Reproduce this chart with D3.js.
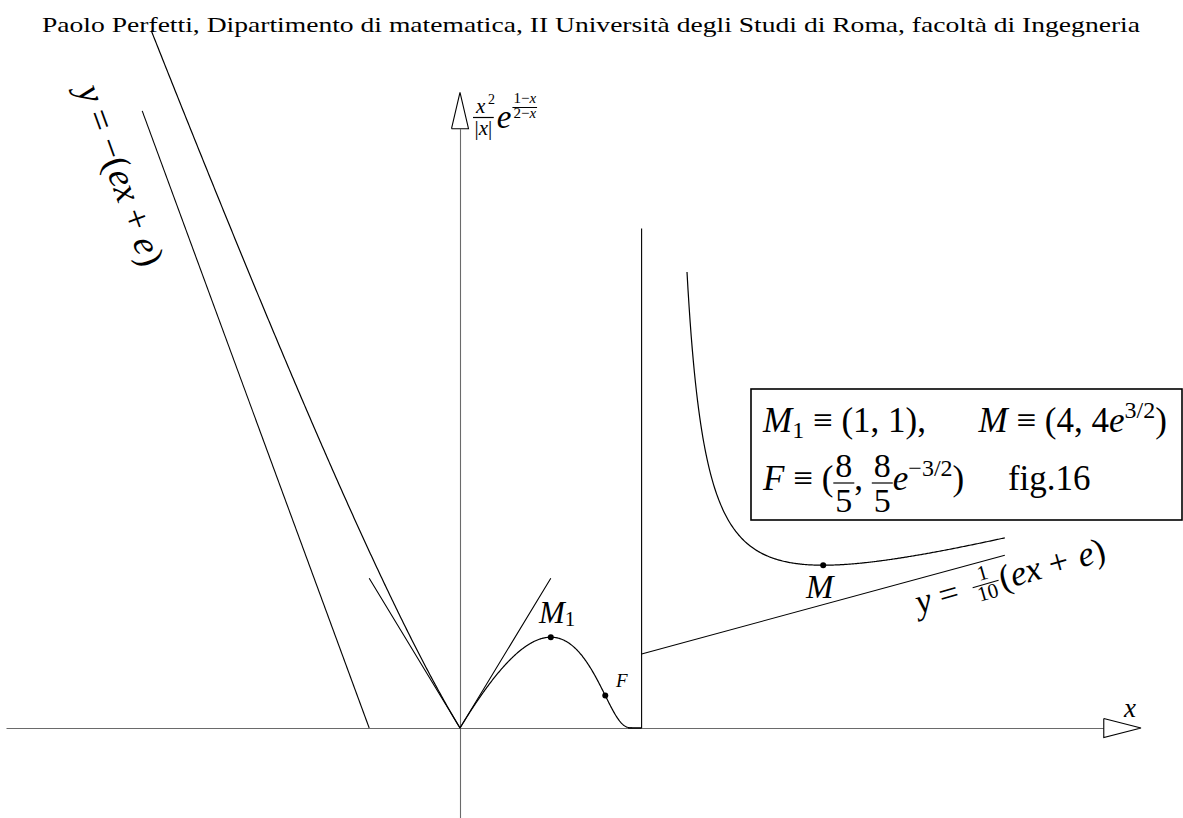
<!DOCTYPE html>
<html>
<head>
<meta charset="utf-8">
<script src="https://cdn.jsdelivr.net/npm/d3@7/dist/d3.min.js"></script>
<style>
  html, body { margin: 0; padding: 0; background: #fff; }
  svg { display: block; }
  text { font-family: "Liberation Serif", "DejaVu Serif", serif; fill: #000; white-space: pre; }
</style>
</head>
<body>
<svg id="chart" width="1183" height="818"></svg>
<script>
// Plot window in function units
const xExtent = [-5, 7.5];
const yExtent = [-1, 7];
const xArrowBase = 7.09;
const yArrowBase = 6.6;

// Branches of f(x) = x^2/|x| * e^((1-x)/(2-x)); the branch past x = 2 is drawn at 1/10 scale
const branchDomains = [[-3.4, 0], [0, 1.999], [2.5, 6]];
const branchScale = [1, 1, 0.1];

// Asymptotes: y = -(ex+e), x = 2, y = (ex+e)/10
const asymptoteSegments = [
  [[-3.5, 6.796], [-1, 0]],
  [[2, 0], [2, 5.5]],
  [[2, 0.815], [6, 1.903]]
];
// Half-tangents at the origin, slope ±e^(1/2)
const tangentSegment = [[-1, 1.649], [0, 0], [1, 1.649]];

// Marked points M1, F, M
const pointNames = ["M1", "F", "M"];
const pointX = [1, 1.6, 4];
const pointY = [1, 0.357, 1.793];

const svg = d3.select("#chart");
const x = d3.scaleLinear().domain(xExtent).range([6, 1141]);
const y = d3.scaleLinear().domain(yExtent).range([818.8, 92.4]);

function f(t) {
  return (t * t) / Math.abs(t || 1e-12) * Math.exp((1 - t) / (2 - t));
}

// Title
svg.append("text")
  .attr("x", 42).attr("y", 32)
  .attr("font-size", 21)
  .attr("textLength", 1098)
  .attr("lengthAdjust", "spacingAndGlyphs")
  .text("Paolo Perfetti, Dipartimento di matematica, II Università degli Studi di Roma, facoltà di Ingegneria");

// Axes (no ticks), drawn with d3.axis
const axisColor = "#6a6a6a";
const xAxisScale = d3.scaleLinear().domain([xExtent[0], xArrowBase]).range([x(xExtent[0]), x(xArrowBase)]);
const yAxisScale = d3.scaleLinear().domain([yExtent[0], yArrowBase]).range([y(yExtent[0]), y(yArrowBase)]);

const gx = svg.append("g").attr("transform", `translate(0,${y(0)})`)
  .call(d3.axisBottom(xAxisScale).tickValues([]).tickSizeOuter(0));
const gy = svg.append("g").attr("transform", `translate(${x(0)},0)`)
  .call(d3.axisLeft(yAxisScale).tickValues([]).tickSizeOuter(0));
[gx, gy].forEach(g => g.select(".domain").attr("stroke", axisColor).attr("stroke-width", 1.1));

// Open arrow heads
svg.append("path")
  .attr("d", d3.line()([[x(xArrowBase), y(0) - 9.5], [x(xExtent[1]), y(0)], [x(xArrowBase), y(0) + 9.5], [x(xArrowBase), y(0) - 9.5]]))
  .attr("fill", "#fff").attr("stroke", "#000").attr("stroke-width", 1.1);
svg.append("path")
  .attr("d", d3.line()([[x(0) - 8.5, y(yArrowBase)], [x(0), y(yExtent[1])], [x(0) + 8.5, y(yArrowBase)], [x(0) - 8.5, y(yArrowBase)]]))
  .attr("fill", "#fff").attr("stroke", "#000").attr("stroke-width", 1.1);

const line = d3.line().x(d => x(d[0])).y(d => y(d[1]));

// Asymptotes and tangents
asymptoteSegments.forEach(seg => {
  svg.append("path").attr("d", line(seg)).attr("fill", "none").attr("stroke", "#000").attr("stroke-width", 1.1);
});
svg.append("path").attr("d", line(tangentSegment)).attr("fill", "none").attr("stroke", "#000").attr("stroke-width", 1.1);

// Function branches
branchDomains.forEach((dom, i) => {
  const n = 300;
  const pts = d3.range(n + 1).map(k => {
    const t = dom[0] + (dom[1] - dom[0]) * k / n;
    return [t, f(t) * branchScale[i]];
  });
  svg.append("path").attr("d", line(pts))
    .attr("fill", "none").attr("stroke", "#000").attr("stroke-width", 1.2);
});
// tail of the middle branch along the axis up to the vertical asymptote
svg.append("path").attr("d", line([[1.85, 0], [2, 0]])).attr("stroke", "#000").attr("stroke-width", 1.1);

// Points
svg.selectAll("circle.pt").data(pointNames).join("circle")
  .attr("class", "pt")
  .attr("cx", (d, i) => x(pointX[i]))
  .attr("cy", (d, i) => y(pointY[i]))
  .attr("r", 3).attr("fill", "#000");

// Fill a text node with runs of [string, italic]
function runs(textSel, parts) {
  parts.forEach(p => {
    textSel.append("tspan").attr("font-style", p[1] ? "italic" : "normal").text(p[0]);
  });
  return textSel;
}
const asRuns = v => (typeof v === "string" ? [[v, false]] : v);

// Simple math-row layout: text runs, italics, sub/superscripts and stacked fractions
function mathRow(g, x0, y0, items) {
  let cx = x0;
  items.forEach(it => {
    if (it.frac) {
      const fs = it.fs;
      const a = runs(g.append("text").attr("font-size", fs).attr("text-anchor", "middle").attr("y", y0 + it.nb), asRuns(it.frac[0]));
      const b = runs(g.append("text").attr("font-size", fs).attr("text-anchor", "middle").attr("y", y0 + it.db), asRuns(it.frac[1]));
      const w = Math.max(a.node().getComputedTextLength(), b.node().getComputedTextLength()) + (it.pad || 2) * 2;
      a.attr("x", cx + w / 2);
      b.attr("x", cx + w / 2);
      g.append("line").attr("x1", cx).attr("x2", cx + w)
        .attr("y1", y0 + it.bar).attr("y2", y0 + it.bar)
        .attr("stroke", "#000").attr("stroke-width", it.bw || 1.2);
      cx += w + (it.gap || 0);
    } else {
      const t = g.append("text").attr("x", cx).attr("y", y0 + (it.dy || 0))
        .attr("font-size", it.fs).attr("font-style", it.it ? "italic" : null).text(it.s);
      cx += t.node().getComputedTextLength() + (it.gap || 0);
    }
  });
  return cx;
}

// y-axis label: x^2/|x| e^((1-x)/(2-x))
const gyl = svg.append("g");
mathRow(gyl, 473, 0, [
  { frac: ["", [["|", false], ["x", true], ["|", false]]], fs: 21, nb: 113, db: 135, bar: 117.5, pad: 1.5, gap: 3 },
  { s: "e", fs: 33, it: true, dy: 128, gap: 1 },
  { frac: [[["1−", false], ["x", true]], [["2−", false], ["x", true]]], fs: 15, nb: 103, db: 118, bar: 107.5, pad: 1, bw: 1 }
]);
// numerator x^2 drawn over the first fraction
gyl.append("text").attr("x", 476).attr("y", 113).attr("font-size", 21).attr("font-style", "italic").text("x");
gyl.append("text").attr("x", 488).attr("y", 104).attr("font-size", 14).text("2");

// x-axis label
svg.append("text").attr("x", 1124).attr("y", 717).attr("font-size", 27).attr("font-style", "italic").text("x");

// Point labels
const gm1 = svg.append("g");
mathRow(gm1, 539, 623, [
  { s: "M", fs: 31, it: true },
  { s: "1", fs: 21, dy: 3 }
]);
svg.append("text").attr("x", 616).attr("y", 687).attr("font-size", 19).attr("font-style", "italic").text("F");
svg.append("text").attr("x", 806).attr("y", 598).attr("font-size", 33).attr("font-style", "italic").text("M");

// Asymptote labels
const gl = svg.append("g").attr("transform", "translate(77,90) rotate(70)");
mathRow(gl, 0, 0, [
  { s: "y", fs: 37, it: true },
  { s: " = −(", fs: 37 },
  { s: "ex", fs: 37, it: true },
  { s: " + ", fs: 37 },
  { s: "e", fs: 37, it: true },
  { s: ")", fs: 37 }
]);

const gr = svg.append("g").attr("transform", "translate(919,614) rotate(-16)");
mathRow(gr, 0, 0, [
  { s: "y", fs: 35, it: true },
  { s: " = ", fs: 35, gap: 6 },
  { frac: ["1", "10"], fs: 21, nb: -15, db: 5, bar: -10.5, pad: 3, bw: 1.1, gap: 1 },
  { s: "(", fs: 35 },
  { s: "ex", fs: 35, it: true },
  { s: " + ", fs: 35, gap: 2 },
  { s: "e", fs: 35, it: true },
  { s: ")", fs: 35 }
]);

// Legend box
svg.append("rect").attr("x", 751).attr("y", 389).attr("width", 431).attr("height", 131)
  .attr("fill", "#fff").attr("stroke", "#000").attr("stroke-width", 1.6);

const gb = svg.append("g");
mathRow(gb, 763, 432, [
  { s: "M", fs: 35, it: true },
  { s: "1", fs: 24, dy: 6 },
  { s: " ≡ (1, 1),      ", fs: 35 },
  { s: "M", fs: 35, it: true },
  { s: " ≡ (4, 4", fs: 35 },
  { s: "e", fs: 35, it: true },
  { s: "3/2", fs: 24, dy: -14 },
  { s: ")", fs: 35 }
]);
mathRow(gb, 763, 490, [
  { s: "F", fs: 35, it: true },
  { s: " ≡ (", fs: 35 },
  { frac: ["8", "5"], fs: 34, nb: -13, db: 22, bar: -7, pad: 2 },
  { s: ", ", fs: 35 },
  { frac: ["8", "5"], fs: 34, nb: -13, db: 22, bar: -7, pad: 2 },
  { s: "e", fs: 35, it: true },
  { s: "−3/2", fs: 24, dy: -14 },
  { s: ")     fig.16", fs: 35 }
]);
</script>
</body>
</html>
